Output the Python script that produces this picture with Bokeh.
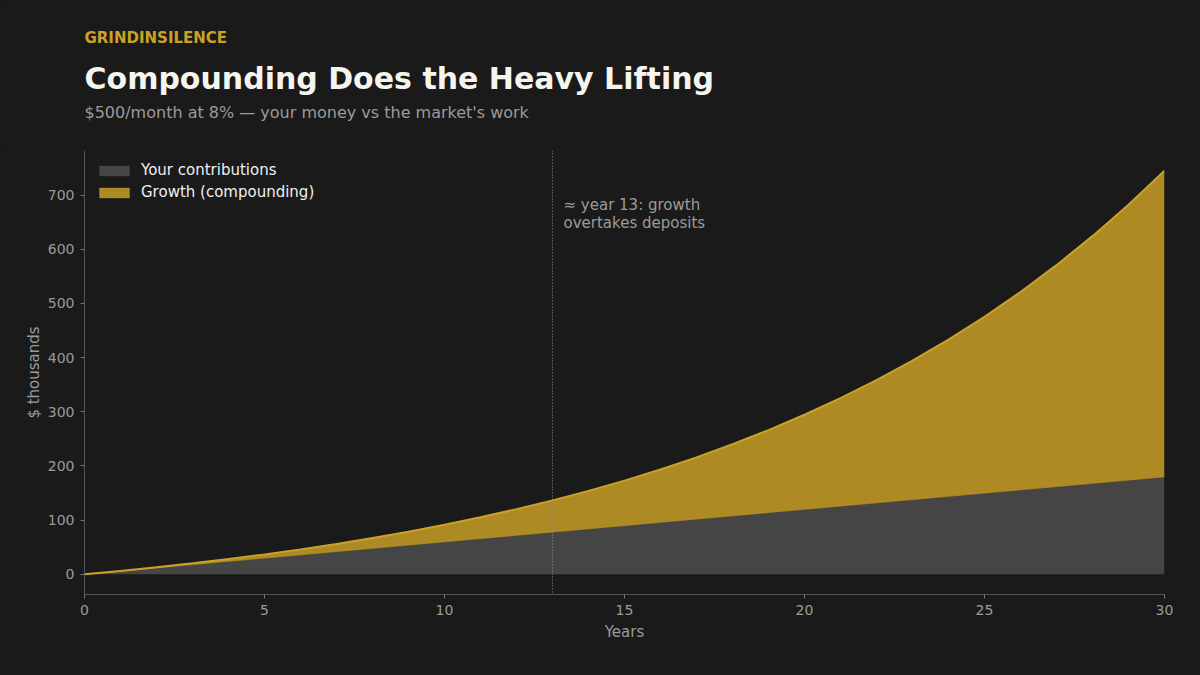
"""Compounding chart: contributions vs growth, dark theme."""

from bokeh.embed import file_html
from bokeh.layouts import column
from bokeh.models import Label, Legend, LegendItem, Range1d, Span
from bokeh.plotting import figure
from bokeh.resources import INLINE

# values in $ thousands
years = list(range(0, 31))
contributions = [
    0, 6, 12, 18, 24, 30, 36, 42, 48, 54, 60,
    66, 72, 78, 84, 90, 96, 102, 108, 114, 120,
    126, 132, 138, 144, 150, 156, 162, 168, 174, 180,
]
total_value = [
    0, 6.2, 13.0, 20.3, 28.2, 36.7, 46.0, 56.1, 66.9, 78.7, 91.5,
    105.3, 120.3, 136.5, 154.0, 173.0, 193.6, 215.9, 240.0, 266.2, 294.5,
    325.2, 358.4, 394.4, 433.3, 475.5, 521.2, 570.7, 624.3, 682.3, 745.2,
]
x_ticks = [0, 5, 10, 15, 20, 25, 30]
y_ticks = [0, 100, 200, 300, 400, 500, 600, 700]
crossover_year = 13

BG = "#1a1a1a"
GREY_TEXT = "#9a9a9a"
GOLD = "#c9a227"
GOLD_FILL = "#ae8a24"
CONTRIB_FILL = "#454545"
FONT = "DejaVu Sans"
HEADER_H = 150

# --- header strip (brand, title, subtitle) ---
head = figure(
    width=1200,
    height=HEADER_H,
    x_range=Range1d(0, 1200),
    y_range=Range1d(0, HEADER_H),
    output_backend="svg",
    toolbar_location=None,
    min_border=0,
    background_fill_color=BG,
    border_fill_color=BG,
    outline_line_color=None,
)
head.axis.visible = False
head.grid.visible = False


def header(text, baseline, color, size, style="normal"):
    # the column lines this frame up with the chart's frame (x=0 -> 84px)
    head.add_layout(Label(x=0, y=HEADER_H - baseline, x_units="screen",
                          y_units="screen", text=text, text_color=color,
                          text_font=FONT, text_font_size=size,
                          text_font_style=style, text_baseline="alphabetic"))


header("GRINDINSILENCE", 37.5, "#c9a227", "15px", "bold")
header("Compounding Does the Heavy Lifting", 78, "#f5f5f0", "30px", "bold")
header("$500/month at 8% — your money vs the market's work", 112,
       GREY_TEXT, "16px")

# --- main chart ---
p = figure(
    width=1200,
    height=675 - HEADER_H,
    x_range=Range1d(0, 30),
    y_range=Range1d(-37.3, 782.4),
    output_backend="svg",
    toolbar_location=None,
    min_border_left=84,
    min_border_right=36,
    min_border_bottom=81,
    min_border_top=0,
    background_fill_color=BG,
    border_fill_color=BG,
    outline_line_color=None,
)

contrib_area = p.varea(x=years, y1=0, y2=contributions, fill_color=CONTRIB_FILL)
growth_area = p.varea(x=years, y1=contributions, y2=total_value,
                      fill_color=GOLD_FILL)
p.line(x=years, y=contributions, line_color=GOLD, line_width=1, line_alpha=0.6)
p.line(x=years, y=total_value, line_color=GOLD, line_width=2)

p.add_layout(Span(location=crossover_year, dimension="height",
                  line_color="#8c8c8c", line_width=1, line_dash="1 2"))
p.add_layout(Label(x=crossover_year, y=698, x_offset=11,
                   text="≈ year 13: growth\novertakes deposits",
                   text_color=GREY_TEXT, text_font=FONT, text_font_size="15px",
                   text_baseline="top", text_line_height=1.0))

# area legend glyphs are drawn inset by 10%, so the box is a bit larger
legend = Legend(
    items=[
        LegendItem(label="Your contributions", renderers=[contrib_area]),
        LegendItem(label="Growth (compounding)", renderers=[growth_area]),
    ],
    location="top_left",
    background_fill_alpha=0,
    border_line_color=None,
    label_text_color="#f0f0f0",
    label_text_font=FONT,
    label_text_font_size="15px",
    label_standoff=8,
    glyph_width=38,
    glyph_height=13,
    spacing=4,
    padding=6,
    margin=11,
)
p.add_layout(legend)

p.xgrid.visible = False
p.ygrid.visible = False
p.xaxis.ticker = x_ticks
p.yaxis.ticker = y_ticks
p.xaxis.axis_label = "Years"
p.yaxis.axis_label = "$ thousands"
for ax in (p.xaxis, p.yaxis):
    ax.axis_line_color = "#555555"
    ax.major_tick_line_color = "#777777"
    ax.major_tick_out = 4
    ax.major_tick_in = 0
    ax.minor_tick_line_color = None
    ax.major_label_text_color = GREY_TEXT
    ax.major_label_text_font = FONT
    ax.major_label_text_font_size = "14px"
    ax.axis_label_text_color = GREY_TEXT
    ax.axis_label_text_font = FONT
    ax.axis_label_text_font_size = "15px"
    ax.axis_label_text_font_style = "normal"
p.xaxis.major_label_standoff = 6
p.xaxis.axis_label_standoff = 5
p.yaxis.major_label_standoff = 6
p.yaxis.axis_label_standoff = 2

page = column(head, p, spacing=0)
html = file_html(page, INLINE)
html = html.replace("<head>", "<head><style>body{background:%s}</style>" % BG, 1)
open("out.html", "w").write(html)
